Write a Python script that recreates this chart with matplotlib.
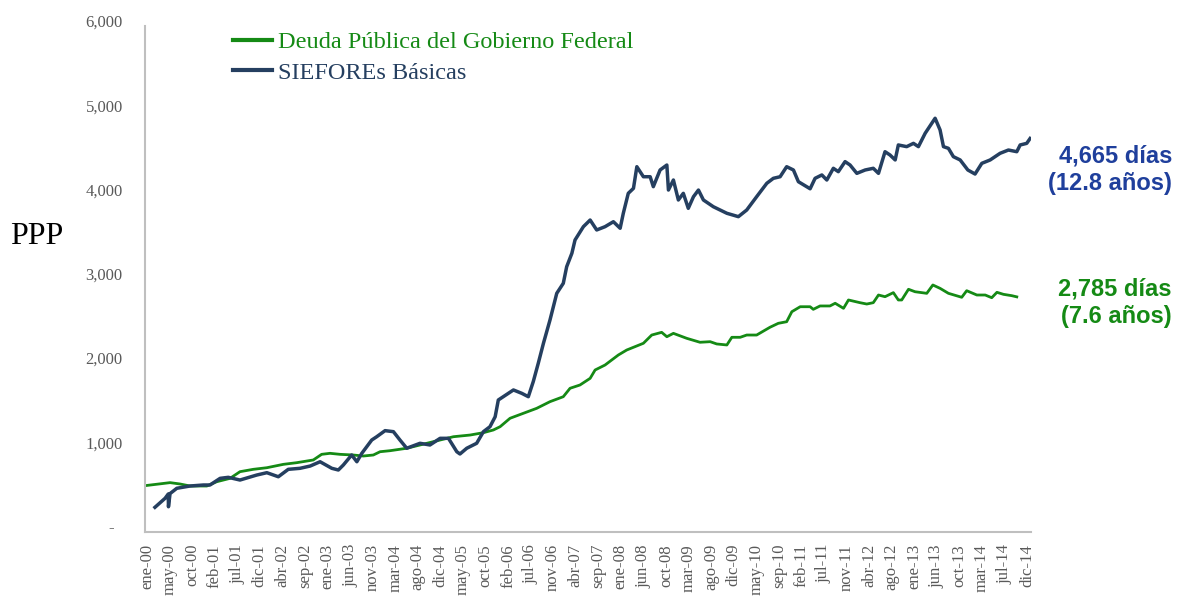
import matplotlib
matplotlib.use('Agg')
import matplotlib.pyplot as plt
import matplotlib.transforms as mtransforms
from matplotlib.lines import Line2D

# category-axis labels (one every ~4.6 months in the source)
tick_labels = ['ene-00', 'may-00', 'oct-00', 'feb-01', 'jul-01', 'dic-01', 'abr-02', 'sep-02',
               'ene-03', 'jun-03', 'nov-03', 'mar-04', 'ago-04', 'dic-04', 'may-05', 'oct-05',
               'feb-06', 'jul-06', 'nov-06', 'abr-07', 'sep-07', 'ene-08', 'jun-08', 'oct-08',
               'mar-09', 'ago-09', 'dic-09', 'may-10', 'sep-10', 'feb-11', 'jul-11', 'nov-11',
               'abr-12', 'ago-12', 'ene-13', 'jun-13', 'oct-13', 'mar-14', 'jul-14', 'dic-14']

# SIEFOREs Basicas (position on category axis, PPP in days)
siefore_x = [0.35, 0.80, 0.94, 0.95, 1.02, 1.32, 1.91, 2.50, 2.79, 3.24, 3.60, 4.12, 4.86, 5.31,
             5.82, 6.26, 6.78, 7.23, 7.67, 8.19, 8.48, 8.70, 9.07, 9.30, 9.52, 9.74, 9.96, 10.18,
             10.55, 10.92, 11.21, 11.51, 12.10, 12.54, 12.99, 13.36, 13.73, 13.87, 14.17, 14.61,
             14.91, 15.20, 15.43, 15.57, 15.79, 16.24, 16.61, 16.90, 17.12, 17.34, 17.57, 17.86,
             18.16, 18.45, 18.60, 18.83, 18.97, 19.34, 19.64, 19.93, 20.30, 20.67, 20.97, 21.11,
             21.33, 21.56, 21.71, 22.00, 22.30, 22.44, 22.74, 23.04, 23.11, 23.33, 23.55, 23.77,
             23.99, 24.22, 24.44, 24.66, 25.10, 25.70, 26.21, 26.58, 27.02, 27.47, 27.76, 28.06,
             28.35, 28.65, 28.87, 29.39, 29.61, 29.91, 30.13, 30.42, 30.64, 30.94, 31.16, 31.46,
             31.83, 32.19, 32.42, 32.71, 32.93, 33.16, 33.30, 33.67, 33.97, 34.19, 34.49, 34.78,
             34.93, 35.15, 35.30, 35.52, 35.74, 36.04, 36.38, 36.70, 37.00, 37.37, 37.81, 38.18,
             38.55, 38.70, 38.99, 39.14]
siefore_y = [287, 394, 445, 294, 450, 513, 540, 552, 552, 631, 643, 611, 670, 698,
             650, 738, 750, 777, 828, 750, 730, 789, 908, 828, 928, 1006, 1086, 1125,
             1197, 1185, 1086, 988, 1047, 1027, 1106, 1106, 947, 920, 988, 1047,
             1185, 1244, 1362, 1561, 1600, 1680, 1640, 1600, 1780, 1996, 2234, 2510,
             2827, 2946, 3143, 3302, 3460, 3618, 3697, 3579, 3618, 3677, 3599, 3777,
             4014, 4073, 4330, 4211, 4211, 4093, 4291, 4350, 4053, 4172, 3935, 4014,
             3836, 3974, 4053, 3935, 3855, 3777, 3737, 3816, 3974, 4133, 4192, 4211,
             4330, 4291, 4152, 4068, 4192, 4232, 4172, 4311, 4271, 4390, 4350, 4251,
             4291, 4311, 4251, 4508, 4469, 4410, 4588, 4568, 4607, 4568, 4727, 4845,
             4905, 4766, 4568, 4548, 4449, 4410, 4291, 4243, 4370, 4410, 4489, 4528,
             4508, 4588, 4607, 4665]

# Deuda Publica del Gobierno Federal
deuda_x = [-0.09, 1.02, 1.46, 1.91, 2.65, 3.09, 3.68, 4.12, 4.71, 5.31, 6.04, 6.64, 7.37, 7.74,
           8.11, 8.55, 9.14, 9.59, 10.03, 10.33, 10.77, 11.51, 12.10, 12.99, 13.58, 14.32, 14.91,
           15.35, 15.65, 16.09, 16.68, 17.27, 17.86, 18.45, 18.75, 19.19, 19.64, 19.86, 20.30,
           20.89, 21.26, 22.00, 22.37, 22.81, 23.04, 23.33, 23.92, 24.51, 24.96, 25.25, 25.70,
           25.92, 26.29, 26.58, 27.02, 27.61, 27.98, 28.35, 28.58, 28.95, 29.39, 29.53, 29.83,
           30.27, 30.50, 30.87, 31.09, 31.60, 31.90, 32.19, 32.42, 32.71, 33.08, 33.30, 33.45,
           33.75, 34.04, 34.56, 34.83, 35.15, 35.52, 36.11, 36.33, 36.78, 37.15, 37.44, 37.67,
           37.96, 38.33, 38.55]
deuda_y = [544, 580, 564, 540, 540, 591, 631, 710, 738, 757, 797, 817, 849, 916,
           928, 916, 908, 896, 908, 947, 959, 988, 1027, 1086, 1125, 1145, 1173,
           1205, 1244, 1344, 1403, 1462, 1541, 1600, 1700, 1739, 1818, 1917, 1976,
           2095, 2154, 2234, 2332, 2364, 2312, 2352, 2293, 2246, 2253, 2226, 2214,
           2305, 2305, 2332, 2332, 2424, 2471, 2490, 2609, 2668, 2668, 2637, 2677,
           2677, 2709, 2649, 2748, 2716, 2700, 2716, 2807, 2787, 2835, 2748, 2748,
           2875, 2846, 2827, 2926, 2886, 2827, 2780, 2858, 2807, 2807, 2775, 2839,
           2815, 2799, 2785]

y_ticks = [0, 1000, 2000, 3000, 4000, 5000, 6000]
y_labels = ['-  ', '1,000', '2,000', '3,000', '4,000', '5,000', '6,000']

blue = '#253f60'
green = '#158a15'
serif = 'Liberation Serif'

fig = plt.figure(figsize=(11.83, 5.99), dpi=100)
ax = fig.add_axes([145 / 1183, 1 - 531.5 / 599, (1031 - 145) / 1183, (531.5 - 26) / 599])

ax.plot(deuda_x, deuda_y, color=green, lw=2.0, solid_joinstyle='round')
ax.plot(siefore_x, siefore_y, color=blue, lw=2.5, solid_joinstyle='round')

ax.set_xlim(-0.09, 39.18)
ax.set_ylim(0, 6000)
ax.set_xticks(range(len(tick_labels)))
ax.set_xticklabels(tick_labels, rotation=90, fontsize=12, family=serif, color='#595959')
ax.set_yticks(y_ticks)
ax.set_yticklabels(y_labels, fontsize=12, family=serif, color='#595959')
ax.tick_params(axis='both', length=0)
ax.tick_params(axis='y', pad=16)
ax.tick_params(axis='x', pad=9)

# nudge y labels up a little, as in the source
off = mtransforms.ScaledTranslation(0, 5 / 100, fig.dpi_scale_trans)
for lab in ax.get_yticklabels():
    lab.set_transform(lab.get_transform() + off)

for s in ['top', 'right']:
    ax.spines[s].set_visible(False)
for s in ['left', 'bottom']:
    ax.spines[s].set_color('#bfbfbf')
    ax.spines[s].set_linewidth(1.5)

handles = [Line2D([], [], color=green, lw=3), Line2D([], [], color=blue, lw=3)]
leg = fig.legend(handles, ['Deuda Pública del Gobierno Federal', 'SIEFOREs Básicas'],
                 loc='upper left', bbox_to_anchor=(233 / 1183, 1 - 31 / 599),
                 frameon=False, borderpad=0, borderaxespad=0, handlelength=1.6,
                 handletextpad=0.25, labelspacing=0.35, labelcolor='linecolor',
                 prop={'family': serif, 'size': 17.5})

fig.text(10 / 1183, 1 - 236 / 599, 'PPP', family=serif, fontsize=23, va='center', ha='left')

fig.text(1172 / 1183, 1 - 170 / 599, '4,665 días\n(12.8 años)', family='Liberation Sans',
         fontweight='bold', fontsize=17, color='#1f3f9c', ha='right', va='center',
         linespacing=1.25)
fig.text(1172 / 1183, 1 - 303 / 599, '2,785 días\n(7.6 años)', family='Liberation Sans',
         fontweight='bold', fontsize=17, color=green, ha='right', va='center',
         linespacing=1.25)

fig.savefig('out.png', dpi=100)
